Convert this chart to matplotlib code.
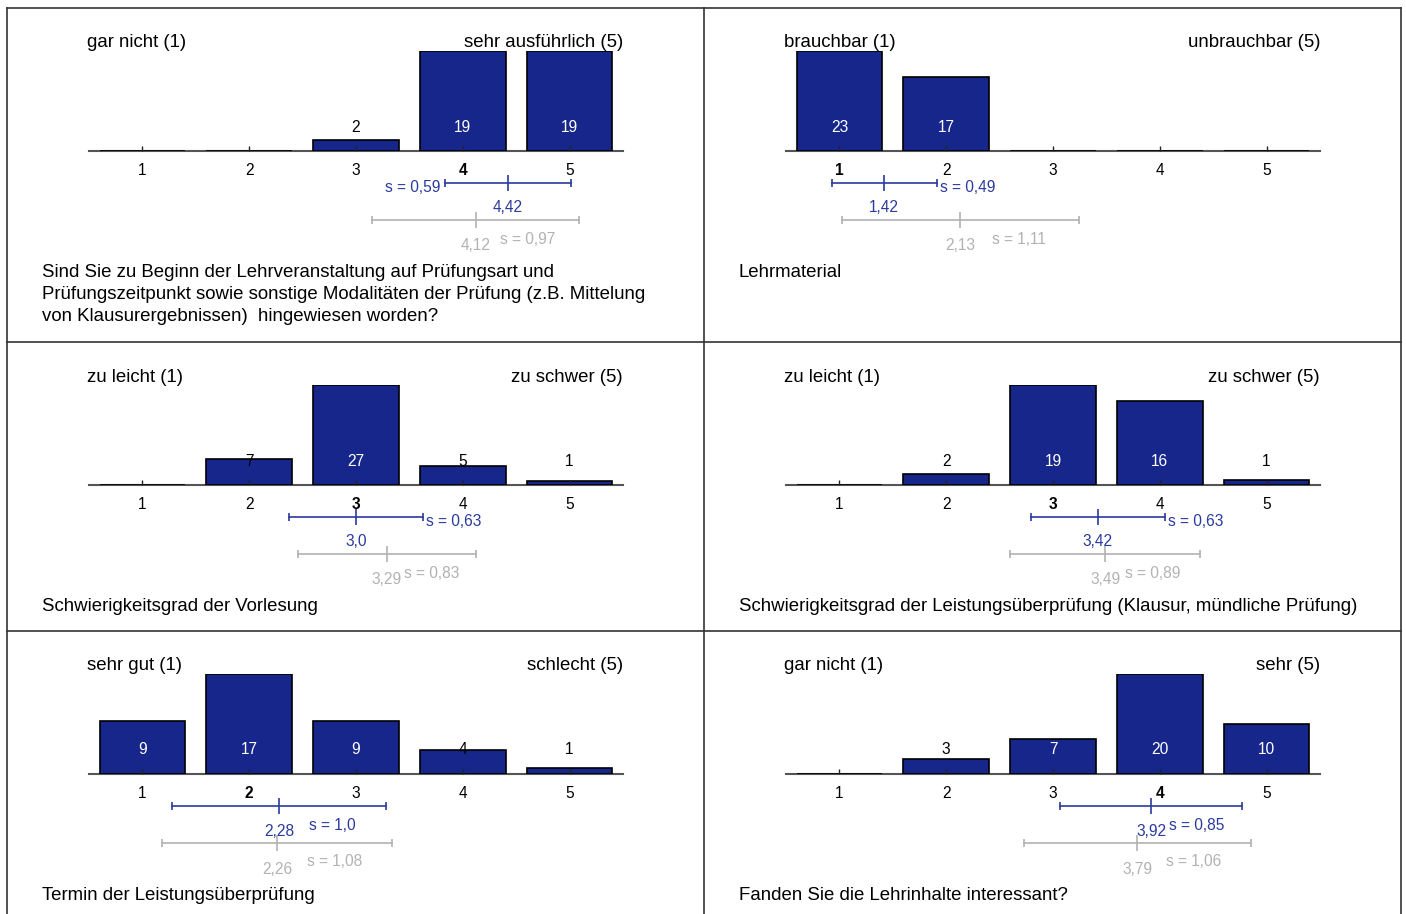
import numpy as np
import matplotlib
matplotlib.use("Agg")
from matplotlib import pyplot as plt
from matplotlib import transforms
from matplotlib.lines import Line2D

plt.rcParams['font.family'] = ['Liberation Sans', 'DejaVu Sans']

# answer categories
categories = [1, 2, 3, 4, 5]

# counts per panel
counts_p1 = [0, 0, 2, 19, 19]
counts_p2 = [23, 17, 0, 0, 0]
counts_p3 = [0, 7, 27, 5, 1]
counts_p4 = [0, 2, 19, 16, 1]
counts_p5 = [9, 17, 9, 4, 1]
counts_p6 = [0, 3, 7, 20, 10]

# mean / standard deviation of this course
course_mean = [4.42, 1.42, 3.0, 3.42, 2.28, 3.92]
course_sd = [0.59, 0.49, 0.63, 0.63, 1.0, 0.85]

# mean / standard deviation of the reference (grey)
ref_mean = [4.12, 2.13, 3.29, 3.49, 2.26, 3.79]
ref_sd = [0.97, 1.11, 0.83, 0.89, 1.08, 1.06]

left_poles = ["gar nicht (1)", "brauchbar (1)", "zu leicht (1)", "zu leicht (1)",
              "sehr gut (1)", "gar nicht (1)"]
right_poles = ["sehr ausführlich (5)", "unbrauchbar (5)", "zu schwer (5)", "zu schwer (5)",
               "schlecht (5)", "sehr (5)"]

questions = [
    "Sind Sie zu Beginn der Lehrveranstaltung auf Prüfungsart und\n"
    "Prüfungszeitpunkt sowie sonstige Modalitäten der Prüfung (z.B. Mittelung\n"
    "von Klausurergebnissen)  hingewiesen worden?",
    "Lehrmaterial",
    "Schwierigkeitsgrad der Vorlesung",
    "Schwierigkeitsgrad der Leistungsüberprüfung (Klausur, mündliche Prüfung)",
    "Termin der Leistungsüberprüfung",
    "Fanden Sie die Lehrinhalte interessant?",
]

all_counts = [counts_p1, counts_p2, counts_p3, counts_p4, counts_p5, counts_p6]

# where the blue "s = .." text sits
sd_label_mode = ['left', 'right', 'right', 'right', 'below', 'below']

BAR = '#16268a'
BLUE = '#2b3a9e'
GREY = '#b2b2b2'
BIG = 13.45
SMALL = 11.2

W, H = 1406, 914
fig = plt.figure(figsize=(W / 100, H / 100), dpi=100)

row_baseline = [151, 485, 774]
col_offset = [0, 697]


def fmt(v):
    s = f"{v:.2f}".rstrip('0')
    if s.endswith('.'):
        s += '0'
    return s.replace('.', ',')


def px_trans(ax, dy):
    return transforms.offset_copy(ax.transData, fig=fig, x=0, y=dy, units='dots')


def stat_line(ax, m, s, dy, color, tick_big=11, tick_small=5.5):
    tr = px_trans(ax, dy)
    ax.plot([m - s, m + s], [0, 0], color=color, lw=1.2, transform=tr, clip_on=False)
    ax.plot([m - s, m + s], [0, 0], ls='none', marker='|', ms=tick_small, mew=1.2,
            color=color, transform=tr, clip_on=False)
    ax.plot([m], [0], ls='none', marker='|', ms=tick_big, mew=1.2,
            color=color, transform=tr, clip_on=False)


def label(ax, txt, xy, off, ha, color, size=SMALL, xycoords='data'):
    ax.annotate(txt, xy=xy, xycoords=xycoords, xytext=off, textcoords='offset pixels',
                ha=ha, va='center', fontsize=size, color=color, annotation_clip=False)


for i in range(6):
    r, c = divmod(i, 2)
    base = row_baseline[r]
    xo = col_offset[c]
    ax = fig.add_axes([(89 + xo) / W, 1 - base / H, 534 / W, 100 / H])
    cnt = all_counts[i]
    mx = max(cnt)
    ax.bar(categories, cnt, width=0.8, color=BAR, edgecolor='black', linewidth=1.2)
    ax.set_xlim(0.5, 5.5)
    ax.set_ylim(0, mx)
    for sp in ['top', 'left', 'right']:
        ax.spines[sp].set_visible(False)
    ax.spines['bottom'].set_color('#555555')
    ax.spines['bottom'].set_linewidth(1.5)
    ax.spines['bottom'].set_zorder(0.5)
    ax.set_yticks([])
    ax.set_xticks(categories)
    ax.set_xticklabels([str(k) for k in categories])
    ax.tick_params(axis='x', direction='in', length=3.5, width=1, color='#222222',
                   pad=8.5, labelsize=SMALL)
    bold = int(round(course_mean[i]))
    for lab in ax.get_xticklabels():
        if lab.get_text() == str(bold):
            lab.set_fontweight('bold')

    # counts
    for k, v in zip(categories, cnt):
        if v == 0:
            continue
        col = 'white' if v / mx > 0.3 else 'black'
        label(ax, str(v), (k, 0), (0, 24), 'center', col)

    # pole labels
    label(ax, left_poles[i], (0, 1), (-2, 8), 'left', 'black', BIG, 'axes fraction')
    label(ax, right_poles[i], (1, 1), (0, 8), 'right', 'black', BIG, 'axes fraction')

    # course stats (blue)
    m, s = course_mean[i], course_sd[i]
    stat_line(ax, m, s, -32, BLUE)
    label(ax, fmt(m), (m, 0), (0, -57), 'center', BLUE)
    mode = sd_label_mode[i]
    if mode == 'left':
        label(ax, "s = " + fmt(s), (m - s, 0), (-4, -36), 'right', BLUE)
    elif mode == 'right':
        label(ax, "s = " + fmt(s), (m + s, 0), (3, -36), 'left', BLUE)
    else:
        label(ax, "s = " + fmt(s), (m + s / 2, 0), (0, -51), 'center', BLUE)

    # reference stats (grey)
    rm, rs = ref_mean[i], ref_sd[i]
    stat_line(ax, rm, rs, -69, GREY)
    label(ax, fmt(rm), (rm, 0), (0, -95), 'center', GREY)
    label(ax, "s = " + fmt(rs), (rm + rs / 2, 0), (0, -88), 'center', GREY)

    # question text
    fig.text((42 + xo) / W, 1 - (base + 113) / H, questions[i], ha='left', va='top',
             fontsize=BIG, linespacing=1.37)

# panel frame
frame = dict(color='#333333', lw=1.2)
for x in [7, 704, 1401]:
    fig.add_artist(Line2D([x / W, x / W], [1 - 8 / H, 0], **frame))
for y in [8, 342, 631]:
    fig.add_artist(Line2D([7 / W, 1401 / W], [1 - y / H, 1 - y / H], **frame))

fig.savefig("out.png", dpi=100)
